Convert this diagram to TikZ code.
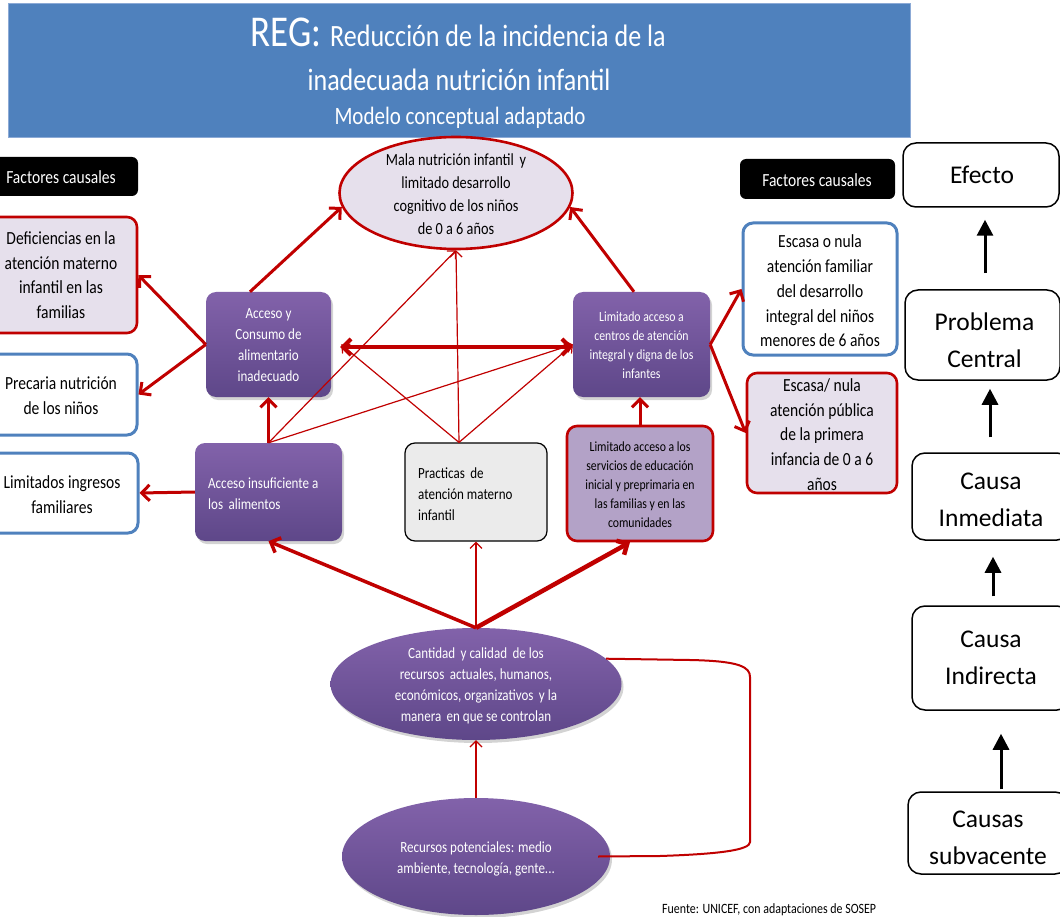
\documentclass[tikz,border=0pt]{standalone}
\usepackage{fontspec}
\setmainfont{Carlito}[FakeStretch=0.84]
\newfontfamily\rcolfont{Carlito}
\usetikzlibrary{arrows.meta,shapes.geometric,shadows,calc}
\definecolor{banner}{HTML}{4F81BD}
\definecolor{bannerB}{HTML}{8CAAD6}
\definecolor{rd}{HTML}{C00000}
\definecolor{bl}{HTML}{4F81BD}
\definecolor{lav}{HTML}{E6E0EC}
\definecolor{purT}{HTML}{8262AA}
\definecolor{purB}{HTML}{5E4789}
\definecolor{lpur}{HTML}{B3A2C7}
\definecolor{pgray}{HTML}{EBEBEB}
\newcommand{\fsz}[2]{\fontsize{#1}{#2}\selectfont}
\newcommand{\dsp}{\hspace{2.5pt} }
\begin{document}
\begin{tikzpicture}[x=1pt,y=-1pt,
  shp/.style={rectangle, rounded corners=10pt, inner sep=0pt},
  redbox/.style={shp, draw=rd, fill=lav, line width=2.6pt},
  bluebox/.style={shp, draw=bl, fill=white, line width=3pt},
  purbox/.style={shp, top color=purT, bottom color=purB, draw=none,
     drop shadow={opacity=0.35, shadow xshift=2pt, shadow yshift=-3pt}},
  purell/.style={ellipse, inner sep=0pt, top color=purT, bottom color=purB, draw=none,
     drop shadow={opacity=0.35, shadow xshift=2pt, shadow yshift=-3pt}},
  labelbox/.style={shp, rounded corners=6pt, fill=black, text=white, font=\fsz{18.5}{22}},
  rcbox/.style={shp, rounded corners=13pt, draw=black, line width=1.5pt, fill=white},
  rctxt/.style={align=center, inner sep=0pt, font=\rcolfont\fsz{25.5}{37}},
  t18/.style={align=center, inner sep=0pt, font=\fsz{18.5}{24.7}},
  t17/.style={align=center, inner sep=0pt, font=\fsz{17}{23}},
  t15/.style={align=center, inner sep=0pt, font=\fsz{15.5}{21}},
  t14/.style={align=center, inner sep=0pt, font=\fsz{14}{19}},
  wt/.style={text=white},
  ra/.style={draw=rd, line width=3pt, -{Straight Barb[length=8pt,width=16pt]}},
  rt/.style={draw=rd, line width=1.2pt, -{Straight Barb[length=6pt,width=12pt]}},
  ba/.style={draw=black, line width=3pt, -{Triangle[length=16pt,width=16pt]}}
]
\useasboundingbox (0,0) rectangle (1060,917);

% Title banner
\node[fill=banner, draw=bannerB, line width=0.8pt, minimum width=902, minimum height=134, inner sep=0pt] (ban) at (459,70) {};
\node[anchor=base, inner sep=0pt, text=white] (t1) at (458,47) {{\fsz{44}{44}REG:}\hspace{9pt}{\fsz{31}{31}Reducción de la incidencia de la}};
\node[anchor=base, inner sep=0pt, text=white, font=\fsz{31}{31}] (t2) at (459,91) {inadecuada nutrición infantil};
\node[anchor=base, inner sep=0pt, text=white, font=\fsz{25}{25}] (t3) at (460,125) {Modelo conceptual adaptado};

% Factores causales labels
\node[labelbox, minimum width=150, minimum height=39] (fcL) at (63,176.5) {};
\node[t18, wt] (fcLT) at (61,177) {Factores causales};
\node[labelbox, minimum width=155, minimum height=40] (fcR) at (817.5,179) {};
\node[t18, wt] (fcRT) at (817,180) {Factores causales};

% Left factor boxes
\node[redbox, minimum width=149, minimum height=116] (def) at (62.5,275) {};
\node[t18] (defT) at (61,275) {Deficiencias en la\\atención materno\\infantil en las\\familias};
\node[bluebox, minimum width=149, minimum height=81] (pre) at (62.5,394.5) {};
\node[t18] (preT) at (61,396) {Precaria nutrición\\de los niños};
\node[bluebox, minimum width=150, minimum height=80] (lim) at (63,493) {};
\node[t18] (limT) at (62,494.5) {Limitados ingresos\\familiares};

% Central nodes
\node[ellipse, inner sep=0pt, draw=rd, fill=lav, line width=2.6pt, minimum width=233, minimum height=112] (mala) at (456,193) {};
\node[t17] (malaT) at (456,194.5) {Mala nutrición infantil\dsp y\\limitado desarrollo\\cognitivo de los niños\\de 0 a 6 años};

\node[purbox, minimum width=125, minimum height=105] (acc) at (268.5,344.5) {};
\node[t15, wt] (accT) at (268.5,345.5) {Acceso y\\Consumo de\\alimentario\\inadecuado};

\node[purbox, minimum width=147, minimum height=98] (ins) at (268.5,492) {};
\node[t15, wt, align=left, anchor=west] (insT) at (208,494) {Acceso insuficiente a\\los\dsp alimentos};

\node[shp, draw=black, line width=1.2pt, fill=pgray, minimum width=142, minimum height=98] (prac) at (476,492) {};
\node[t15, align=left, anchor=west] (pracT) at (418,494.5) {Practicas\dsp de\\atención materno\\infantil};

\node[purbox, minimum width=137, minimum height=105] (cen) at (641.5,344.5) {};
\node[t14, wt] (cenT) at (641.5,345) {Limitado acceso a\\centros de atención\\integral y digna de los\\infantes};

\node[shp, draw=rd, fill=lpur, line width=2.6pt, minimum width=146, minimum height=115] (serv) at (640,483.5) {};
\node[t14] (servT) at (640,485) {Limitado acceso a los\\servicios de educación\\inicial y preprimaria en\\las familias y en las\\comunidades};

% Right factor boxes
\node[bluebox, minimum width=154, minimum height=132] (esc1) at (820,289) {};
\node[t18] (esc1T) at (820,291) {Escasa o nula\\atención familiar\\del desarrollo\\integral del niños\\menores de 6 años};
\node[redbox, minimum width=150, minimum height=120] (esc2) at (822,433) {};
\node[t18] (esc2T) at (822,434.6) {Escasa/ nula\\atención pública\\de la primera\\infancia de 0 a 6\\años};

% Bottom ellipses
\node[purell, minimum width=291, minimum height=112] (cant) at (476,684) {};
\node[t15, wt] (cantT) at (476,685.5) {Cantidad\dsp y calidad\dsp de los\\recursos\dsp actuales, humanos,\\económicos, organizativos\dsp y la\\manera\dsp en que se controlan};
\node[purell, minimum width=268, minimum height=117] (rec) at (476,856.5) {};
\node[t15, wt] (recT) at (476,858.5) {Recursos potenciales: medio\\ambiente, tecnología, gente...};

% Right column legend
\node[rcbox, minimum width=156, minimum height=64] (efe) at (981,175) {};
\node[rctxt] (efeT) at (982,175) {Efecto};
\node[rcbox, minimum width=155, minimum height=90] (prob) at (982.5,335) {};
\node[rctxt] (probT) at (984.5,340.5) {Problema\\Central};
\node[rcbox, minimum width=158, minimum height=87] (inm) at (991,496.5) {};
\node[rctxt] (inmT) at (991,500) {Causa\\Inmediata};
\node[rcbox, minimum width=158, minimum height=104] (ind) at (991,658) {};
\node[rctxt] (indT) at (991,657.5) {Causa\\Indirecta};
\node[rcbox, minimum width=160, minimum height=82] (sub) at (988,833) {};
\node[rctxt] (subT) at (988,837.5) {Causas\\subvacente};

\draw[ba] ([xshift=2.5pt,yshift=16pt]prob.north) -- ([xshift=4pt,yshift=-12pt]efe.south);
\draw[ba] ([xshift=-1pt,yshift=15pt]inm.north) -- ([xshift=7.5pt,yshift=-8pt]prob.south);
\draw[ba] ([xshift=2pt,yshift=9pt]ind.north) -- ([xshift=2pt,yshift=-16pt]inm.south);
\draw[ba] ([xshift=13pt,yshift=2pt]sub.north) -- ([xshift=10pt,yshift=-23pt]ind.south);

% Footnote
\node[anchor=base west, inner sep=0pt, font=\fsz{14.2}{16}] (src) at (662,913) {Fuente: UNICEF, con adaptaciones de SOSEP};

% Red connectors
\coordinate (pa) at ([xshift=-17pt]prac.north);
\draw[rt] (ins.north) -- (mala.south);
\draw[rt] (ins.north) -- (cen.west);
\draw[rt] (pa) -- ([xshift=10pt]acc.east);
\draw[rt] (pa) -- (mala.south);
\draw[rt] (pa) -- (cen.west);
\draw[rt] (cant.north) -- (prac.south);
\draw[rt] (rec.north) -- (cant.south);

\draw[ra] ([xshift=-18.5pt]acc.north) -- (mala.187);
\draw[ra] (acc.west) -- (def.east);
\draw[ra] (acc.west) -- (pre.east);
\draw[ra] (ins.west) -- (lim.east);
\draw[ra] (ins.north) -- (acc.south);
\draw[ra, line width=4pt, {Straight Barb[length=8pt,width=16pt]}-{Straight Barb[length=8pt,width=16pt]}] ([xshift=9pt,yshift=-2.5pt]acc.east) -- ([yshift=-2.5pt]cen.west);
\draw[ra] ([xshift=-7.5pt]cen.north) -- (mala.-7);
\draw[ra] (cen.east) -- (esc1.west);
\draw[ra] (cen.east) -- (esc2.west);
\draw[ra] (serv.north) -- (serv.north |- cen.south);
\draw[ra, line width=3.5pt] (cant.north) -- (ins.south);
\draw[ra, line width=4.5pt] (cant.north) -- ([xshift=-10pt]serv.south);

\draw[draw=rd, line width=2pt] (cant.11) -- (690,660) .. controls (740,661) and (750,667) .. (750,677) -- (750,842) .. controls (750,850) and (720,854) .. (660,856) -- ([xshift=-12pt]rec.east);
\end{tikzpicture}
\end{document}
